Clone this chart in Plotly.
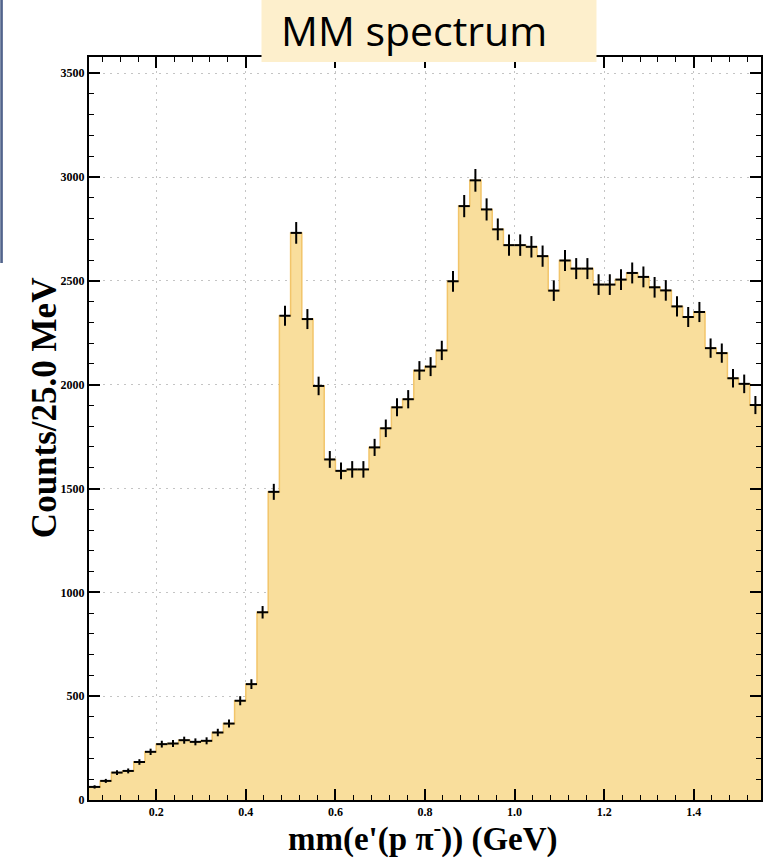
import numpy as np
import plotly.graph_objects as go

# ---- data ----
bin_width = 0.025  # GeV
bin_centers = [0.0625, 0.0875, 0.1125, 0.1375, 0.1625, 0.1875, 0.2125, 0.2375, 0.2625, 0.2875,
               0.3125, 0.3375, 0.3625, 0.3875, 0.4125, 0.4375, 0.4625, 0.4875, 0.5125, 0.5375,
               0.5625, 0.5875, 0.6125, 0.6375, 0.6625, 0.6875, 0.7125, 0.7375, 0.7625, 0.7875,
               0.8125, 0.8375, 0.8625, 0.8875, 0.9125, 0.9375, 0.9625, 0.9875, 1.0125, 1.0375,
               1.0625, 1.0875, 1.1125, 1.1375, 1.1625, 1.1875, 1.2125, 1.2375, 1.2625, 1.2875,
               1.3125, 1.3375, 1.3625, 1.3875, 1.4125, 1.4375, 1.4625, 1.4875, 1.5125, 1.5375]
counts = [63, 92, 132, 140, 183, 232, 269, 272, 288, 280,
          285, 325, 368, 478, 558, 904, 1484, 2332, 2731, 2316,
          1994, 1640, 1585, 1592, 1592, 1698, 1790, 1891, 1930, 2068,
          2087, 2165, 2498, 2860, 2984, 2844, 2748, 2672, 2672, 2664,
          2619, 2453, 2598, 2559, 2559, 2482, 2482, 2506, 2538, 2519,
          2469, 2454, 2377, 2326, 2350, 2176, 2152, 2031, 2004, 1902]
x_tick_vals = [0.2, 0.4, 0.6, 0.8, 1.0, 1.2, 1.4]
x_tick_text = ["0.2", "0.4", "0.6", "0.8", "1.0", "1.2", "1.4"]
y_tick_vals = [0, 500, 1000, 1500, 2000, 2500, 3000, 3500]
y_tick_text = ["0", "500", "1000", "1500", "2000", "2500", "3000", "3500"]

title_text = "MM spectrum"
x_title = "mm(e'(p \u03c0<sup>-</sup>)) (GeV)"
y_title = "Counts/25.0 MeV"

# ---- derived ----
centers = np.array(bin_centers)
vals = np.array(counts, dtype=float)
edges_x = list(centers - bin_width / 2) + [centers[-1] + bin_width / 2]
edges_y = list(vals) + [vals[-1]]
err_y = np.sqrt(vals)
err_x = np.full(len(vals), bin_width / 2)

FILL = "#f9de9c"
EDGE = "#f2c56a"

fig = go.Figure()
fig.add_trace(go.Scatter(
    x=edges_x, y=edges_y, mode="lines", line_shape="hv",
    line=dict(color=EDGE, width=1.5), fill="tozeroy", fillcolor=FILL,
    hoverinfo="skip"))
fig.add_trace(go.Scatter(
    x=bin_centers, y=counts, mode="markers",
    marker=dict(size=1, color="black"),
    error_x=dict(type="data", array=err_x, color="black", thickness=2, width=0),
    error_y=dict(type="data", array=err_y, color="black", thickness=2, width=0)))

tickfont = dict(family="Liberation Serif", size=12, color="black", weight="bold")
axis_common = dict(
    showline=True, linecolor="black", linewidth=2, mirror="ticks",
    ticks="inside", ticklen=11, tickwidth=1.5, tickcolor="black",
    showgrid=True, gridcolor="#c4c4c4", gridwidth=1, griddash="2px,5px",
    zeroline=False, tickfont=tickfont)

fig.update_xaxes(range=[0.05, 1.55], tickvals=x_tick_vals, ticktext=x_tick_text,
                 minor=dict(ticks="inside", ticklen=5, tickwidth=1.2, tickcolor="black",
                            dtick=0.04, tick0=0, showgrid=False),
                 **axis_common)
fig.update_yaxes(range=[0, 3578], tickvals=y_tick_vals, ticktext=y_tick_text,
                 minor=dict(ticks="inside", ticklen=5, tickwidth=1.2, tickcolor="black",
                            dtick=100, tick0=0, showgrid=False),
                 **axis_common)

# plot-area geometry in pixels (for paper-coordinate placement)
L, R, T, B = 89, 763, 57, 800
W, H = R - L, B - T
def px(xp):
    return (xp - L) / W
def py(yp):
    return (B - yp) / H

fig.update_layout(
    width=764, height=858,
    margin=dict(l=L, r=764 - R, t=T, b=858 - B),
    paper_bgcolor="white", plot_bgcolor="white",
    showlegend=False,
    shapes=[
        dict(type="rect", xref="paper", yref="paper", layer="above",
             x0=px(262), x1=px(598), y0=py(62), y1=py(0),
             fillcolor="#fdefcc", line=dict(width=0)),
        dict(type="line", xref="paper", yref="paper", layer="above",
             x0=px(1.3), x1=px(1.3), y0=py(0), y1=py(263),
             line=dict(color="#52648c", width=2.6)),
    ],
    annotations=[
        dict(text=title_text, xref="paper", yref="paper", x=px(280), y=py(30),
             xanchor="left", yanchor="middle", showarrow=False,
             font=dict(family="Open Sans", size=41, color="black")),
        dict(text="<b>" + y_title + "</b>", xref="paper", yref="paper",
             x=px(44), y=py(408), xanchor="center", yanchor="middle",
             textangle=-90, showarrow=False,
             font=dict(family="Liberation Serif", size=35, color="black")),
        dict(text="<b>" + x_title + "</b>", xref="paper", yref="paper",
             x=px(424), y=py(836), xanchor="center", yanchor="middle",
             showarrow=False,
             font=dict(family="Liberation Serif", size=33, color="black")),
    ],
)

fig.write_html("out.html")
